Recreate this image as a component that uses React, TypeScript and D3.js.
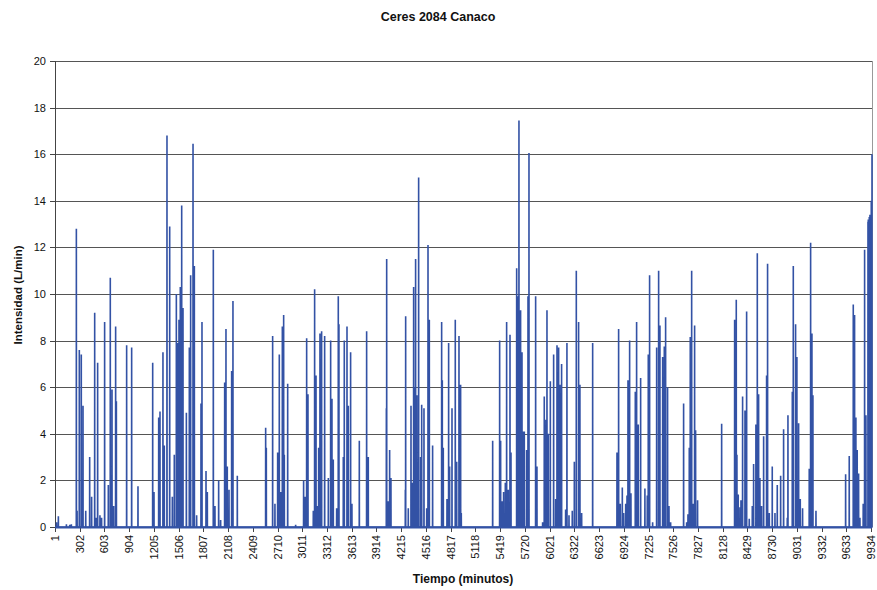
import React from "react";
import * as d3 from "d3";

const TITLE = "Ceres 2084 Canaco";
const X_TITLE = "Tiempo (minutos)";
const Y_TITLE = "Intensidad (L/min)";

const N_POINTS = 9945;
const xTickLabels = [1, 302, 603, 904, 1205, 1506, 1807, 2108, 2409, 2710, 3011, 3312, 3613, 3914, 4215, 4516, 4817, 5118, 5419, 5720, 6021, 6322, 6623, 6924, 7225, 7526, 7827, 8128, 8429, 8730, 9031, 9332, 9633, 9934];
const yTicks = [0, 2, 4, 6, 8, 10, 12, 14, 16, 18, 20];

// Non-zero readings (minute, intensity); all other minutes are 0
const spikeMinutes = [
  20, 42, 140, 180, 200, 261, 270, 297, 321, 342, 375, 423, 447, 484, 500, 520, 548, 568, 605, 650, 674, 695, 715, 739, 748,
  873, 934, 1011, 1190, 1206, 1263, 1279, 1315, 1331, 1364, 1397, 1429, 1453, 1478, 1494, 1510, 1526, 1543, 1559, 1600,
  1636, 1652, 1681, 1697, 1725, 1778, 1790, 1839, 1855, 1928, 1948, 1993, 2017, 2066, 2082, 2098, 2119, 2151, 2167, 2220,
  2565, 2573, 2650, 2678, 2711, 2731, 2748, 2768, 2784, 2792, 2833, 2930, 3027, 3047, 3064, 3080, 3145, 3161, 3178, 3194,
  3210, 3226, 3246, 3283, 3328, 3356, 3372, 3388, 3429, 3449, 3457, 3510, 3522, 3555, 3571, 3599, 3615, 3705, 3794, 3814,
  4034, 4038, 4054, 4074, 4090, 4265, 4269, 4301, 4334, 4350, 4366, 4382, 4390, 4406, 4427, 4451, 4464, 4492, 4525, 4541,
  4557, 4597, 4707, 4715, 4727, 4772, 4792, 4804, 4833, 4873, 4890, 4918, 4938, 4946, 5328, 5413, 5425, 5445, 5461, 5482,
  5498, 5518, 5539, 5551, 5620, 5632, 5648, 5668, 5685, 5701, 5713, 5741, 5758, 5770, 5851, 5867, 5936, 5956, 5976, 5989,
  6005, 6030, 6070, 6095, 6111, 6131, 6147, 6167, 6216, 6232, 6257, 6297, 6322, 6346, 6374, 6390, 6411, 6545, 6841, 6861,
  6881, 6906, 6922, 6947, 6963, 6975, 6995, 7011, 7064, 7072, 7080, 7100, 7129, 7181, 7210, 7222, 7238, 7275, 7324, 7348,
  7364, 7397, 7417, 7433, 7457, 7474, 7494, 7652, 7689, 7705, 7721, 7733, 7750, 7770, 7786, 7798, 7822, 8115, 8273, 8293,
  8301, 8317, 8338, 8350, 8370, 8399, 8419, 8451, 8488, 8504, 8532, 8549, 8565, 8581, 8601, 8626, 8662, 8674, 8695, 8731,
  8764, 8792, 8833, 8869, 8914, 8922, 8975, 8987, 9015, 9031, 9052, 9072, 9100, 9181, 9198, 9214, 9226, 9263, 9624, 9668,
  9717, 9733, 9749, 9765, 9782, 9798, 9838, 9855, 9871, 9896, 9900, 9905, 9912, 9920, 9928, 9936, 9945,
];
const spikeValues = [
  0.2, 0.46, 0.12, 0.1, 0.12, 12.8, 0.7, 7.6, 7.4, 5.2, 0.7, 3.0, 1.3, 9.2, 0.4, 7.05, 0.5, 0.4, 8.8, 1.8, 10.7, 5.9, 0.9, 8.6, 5.4,
  7.8, 7.7, 1.75, 7.05, 1.5, 4.7, 4.96, 7.5, 3.5, 16.8, 12.9, 1.3, 3.1, 10.0, 7.9, 8.9, 10.3, 13.8, 9.4, 4.9,
  7.7, 10.8, 16.45, 11.2, 0.5, 5.3, 8.8, 2.4, 1.5, 11.9, 0.9, 2.0, 0.3, 6.2, 8.5, 2.6, 1.6, 6.7, 9.7, 2.2,
  4.26, 3.4, 8.2, 1.0, 3.2, 7.4, 1.5, 8.6, 9.1, 3.1, 6.15, 0.1, 2.0, 1.3, 8.1, 5.7, 0.7, 10.2, 6.5, 0.9,
  3.4, 8.3, 8.4, 8.2, 2.1, 8.0, 5.5, 2.9, 0.8, 9.9, 8.7, 3.0, 8.0, 8.6, 5.2, 7.5, 1.0, 3.7, 8.4, 3.0,
  5.1, 11.5, 1.1, 3.3, 2.1, 1.6, 9.05, 0.8, 5.2, 1.9, 10.3, 6.0, 11.5, 5.65, 15.0, 3.0, 5.25, 5.1, 0.8, 12.1,
  8.9, 3.5, 8.8, 6.3, 3.4, 1.2, 7.9, 2.6, 5.1, 8.9, 2.8, 8.2, 6.1, 0.6, 3.7, 8.0, 3.7, 1.1, 1.5, 1.9,
  8.8, 1.6, 8.25, 3.2, 11.1, 9.9, 17.45, 9.3, 7.5, 4.1, 4.1, 3.3, 9.9, 16.05, 9.9, 2.6, 0.2, 5.6, 4.6, 9.3,
  4.0, 6.25, 7.4, 1.2, 7.8, 7.7, 6.1, 7.0, 0.75, 7.9, 0.5, 0.7, 2.8, 11.0, 8.8, 6.1, 0.6, 7.9, 3.2, 8.5,
  1.0, 1.7, 0.6, 1.0, 1.35, 6.3, 8.0, 1.45, 5.8, 4.1, 8.8, 4.4, 6.4, 1.65, 1.35, 7.4, 10.8, 0.2, 7.7, 11.0,
  8.65, 7.3, 7.75, 9.0, 6.0, 0.9, 0.2, 5.3, 0.2, 0.55, 3.4, 8.15, 11.0, 1.0, 8.65, 4.15, 1.15, 4.43, 8.9, 9.75,
  3.1, 1.4, 0.85, 1.15, 5.6, 5.0, 9.25, 0.35, 0.9, 2.7, 4.4, 11.75, 5.7, 2.1, 0.9, 3.9, 6.5, 11.3, 0.6, 2.6,
  0.6, 1.8, 2.2, 4.2, 0.4, 4.8, 5.8, 11.2, 8.7, 7.3, 4.45, 1.2, 0.8, 2.5, 12.2, 8.3, 5.65, 0.7, 2.26, 3.05,
  9.55, 9.1, 4.7, 3.3, 2.3, 0.4, 1.0, 11.9, 4.8, 13.1, 13.2, 13.0, 13.3, 13.4, 13.3, 14.0, 16.0,
];

const W = 877;
const H = 590;
const M = { left: 55, right: 872, top: 61, bottom: 527 };

export default function App() {
  const series: number[] = new Array(N_POINTS).fill(0);
  spikeMinutes.forEach((m, i) => {
    series[m - 1] = spikeValues[i];
  });

  const x = d3.scaleLinear().domain([1, N_POINTS]).range([M.left, M.right]);
  const y = d3.scaleLinear().domain([0, 20]).range([M.bottom, M.top]);

  const line = d3
    .line<number>()
    .x((_, i) => x(i + 1))
    .y((d) => y(d));

  const font = "'Liberation Sans', Arial, sans-serif";

  return (
    <svg width={W} height={H} style={{ position: "absolute", left: 0, top: 0, background: "#fff" }} fontFamily={font}>
      <text x={438} y={21} textAnchor="middle" fontSize={12.5} fontWeight="bold" fill="#111">
        {TITLE}
      </text>

      {/* gridlines */}
      {yTicks.map((t) => (
        <line key={"g" + t} x1={M.left} x2={M.right} y1={Math.round(y(t)) + 0.5} y2={Math.round(y(t)) + 0.5} stroke="#555" strokeWidth={1} />
      ))}
      {/* plot border right */}
      <line x1={M.right + 0.5} x2={M.right + 0.5} y1={M.top} y2={M.bottom} stroke="#999" />

      {/* y axis */}
      <line x1={M.left + 0.5} x2={M.left + 0.5} y1={M.top} y2={M.bottom + 1} stroke="#444" />
      {yTicks.map((t) => (
        <g key={"yt" + t}>
          <line x1={M.left - 5} x2={M.left} y1={Math.round(y(t)) + 0.5} y2={Math.round(y(t)) + 0.5} stroke="#444" />
          <text x={M.left - 9} y={y(t) + 4} textAnchor="end" fontSize={11} fill="#111">
            {t}
          </text>
        </g>
      ))}

      {/* x axis ticks */}
      {xTickLabels.map((t) => (
        <g key={"xt" + t}>
          <line x1={Math.round(x(t)) + 0.5} x2={Math.round(x(t)) + 0.5} y1={M.bottom} y2={M.bottom + 5} stroke="#444" />
          <text
            transform={`translate(${x(t) + 4},${M.bottom + 8}) rotate(-90)`}
            textAnchor="end"
            fontSize={11}
            fill="#111"
          >
            {t}
          </text>
        </g>
      ))}

      {/* series */}
      <path d={line(series) || ""} fill="none" stroke="#3352A5" strokeWidth={1.6} strokeLinejoin="miter" />

      <line x1={M.left} x2={M.right} y1={M.bottom + 0.5} y2={M.bottom + 0.5} stroke="#3352A5" strokeWidth={2} />

      <text x={463} y={583} textAnchor="middle" fontSize={12} fontWeight="bold" fill="#111">
        {X_TITLE}
      </text>
      <text transform={`translate(22,295) rotate(-90)`} textAnchor="middle" fontSize={11.5} fontWeight="bold" fill="#111">
        {Y_TITLE}
      </text>
    </svg>
  );
}
